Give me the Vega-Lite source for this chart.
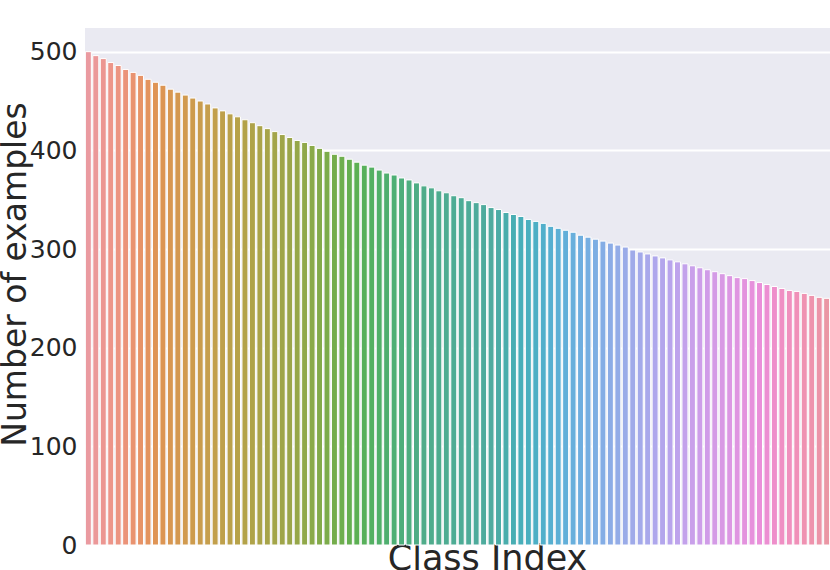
{
  "$schema": "https://vega.github.io/schema/vega-lite/v6.json",
  "width": 745,
  "height": 517,
  "padding": {"left": 85, "top": 28, "right": 0, "bottom": 25},
  "autosize": {"type": "none"},
  "background": "white",
  "config": {
    "view": {"fill": "#eaeaf2", "stroke": null},
    "font": "DejaVu Sans"
  },
  "data": {"values": [
    {"c":0,"n":500},{"c":1,"n":496},{"c":2,"n":493},{"c":3,"n":489},{"c":4,"n":486},{"c":5,"n":482},{"c":6,"n":479},{"c":7,"n":476},{"c":8,"n":472},{"c":9,"n":469},
    {"c":10,"n":466},{"c":11,"n":462},{"c":12,"n":459},{"c":13,"n":456},{"c":14,"n":453},{"c":15,"n":450},{"c":16,"n":447},{"c":17,"n":443},{"c":18,"n":440},{"c":19,"n":437},
    {"c":20,"n":434},{"c":21,"n":431},{"c":22,"n":428},{"c":23,"n":425},{"c":24,"n":422},{"c":25,"n":419},{"c":26,"n":416},{"c":27,"n":413},{"c":28,"n":410},{"c":29,"n":408},
    {"c":30,"n":405},{"c":31,"n":402},{"c":32,"n":399},{"c":33,"n":396},{"c":34,"n":394},{"c":35,"n":391},{"c":36,"n":388},{"c":37,"n":385},{"c":38,"n":383},{"c":39,"n":380},
    {"c":40,"n":377},{"c":41,"n":375},{"c":42,"n":372},{"c":43,"n":370},{"c":44,"n":367},{"c":45,"n":364},{"c":46,"n":362},{"c":47,"n":359},{"c":48,"n":357},{"c":49,"n":354},
    {"c":50,"n":352},{"c":51,"n":349},{"c":52,"n":347},{"c":53,"n":345},{"c":54,"n":342},{"c":55,"n":340},{"c":56,"n":337},{"c":57,"n":335},{"c":58,"n":333},{"c":59,"n":330},
    {"c":60,"n":328},{"c":61,"n":326},{"c":62,"n":323},{"c":63,"n":321},{"c":64,"n":319},{"c":65,"n":317},{"c":66,"n":314},{"c":67,"n":312},{"c":68,"n":310},{"c":69,"n":308},
    {"c":70,"n":306},{"c":71,"n":304},{"c":72,"n":302},{"c":73,"n":299},{"c":74,"n":297},{"c":75,"n":295},{"c":76,"n":293},{"c":77,"n":291},{"c":78,"n":289},{"c":79,"n":287},
    {"c":80,"n":285},{"c":81,"n":283},{"c":82,"n":281},{"c":83,"n":279},{"c":84,"n":277},{"c":85,"n":275},{"c":86,"n":273},{"c":87,"n":271},{"c":88,"n":270},{"c":89,"n":268},
    {"c":90,"n":266},{"c":91,"n":264},{"c":92,"n":262},{"c":93,"n":260},{"c":94,"n":258},{"c":95,"n":257},{"c":96,"n":255},{"c":97,"n":253},{"c":98,"n":251},{"c":99,"n":250}
  ]},
  "mark": {"type": "bar", "stroke": "white", "strokeWidth": 1},
  "encoding": {
    "x": {
      "field": "c", "type": "ordinal", "sort": null,
      "scale": {"paddingInner": 0.2, "paddingOuter": 0.05},
      "axis": {
        "title": "Class Index", "labels": false, "ticks": false, "domain": false, "grid": false,
        "titleFontSize": 35, "titleFontWeight": "normal", "titleColor": "#262626",
        "titlePadding": -4, "titleX": 402
      }
    },
    "y": {
      "field": "n", "type": "quantitative",
      "scale": {"domain": [0, 524], "nice": false},
      "axis": {
        "title": "Number of examples", "values": [0, 100, 200, 300, 400, 500],
        "ticks": false, "domain": false, "grid": true, "gridColor": "white", "gridWidth": 1.8,
        "labelFontSize": 25, "labelColor": "#262626", "labelPadding": 8,
        "titleFontSize": 33, "titleFontWeight": "normal", "titleColor": "#262626",
        "titleAngle": -90, "titleBaseline": "alphabetic", "titleX": -60, "titleY": 246, "titleAlign": "center"
      }
    },
    "color": {
      "field": "c", "type": "quantitative", "legend": null,
      "scale": {
        "domain": [0, 99], "interpolate": "hcl",
        "range": ["#ea9aa0", "#df9455", "#bea04b", "#9ba64a", "#5cb053", "#50ac8a", "#4fab9f", "#5cafd5", "#9aabe8", "#c9a0ea", "#ea8fd9", "#ea96a4"]
      }
    }
  }
}
